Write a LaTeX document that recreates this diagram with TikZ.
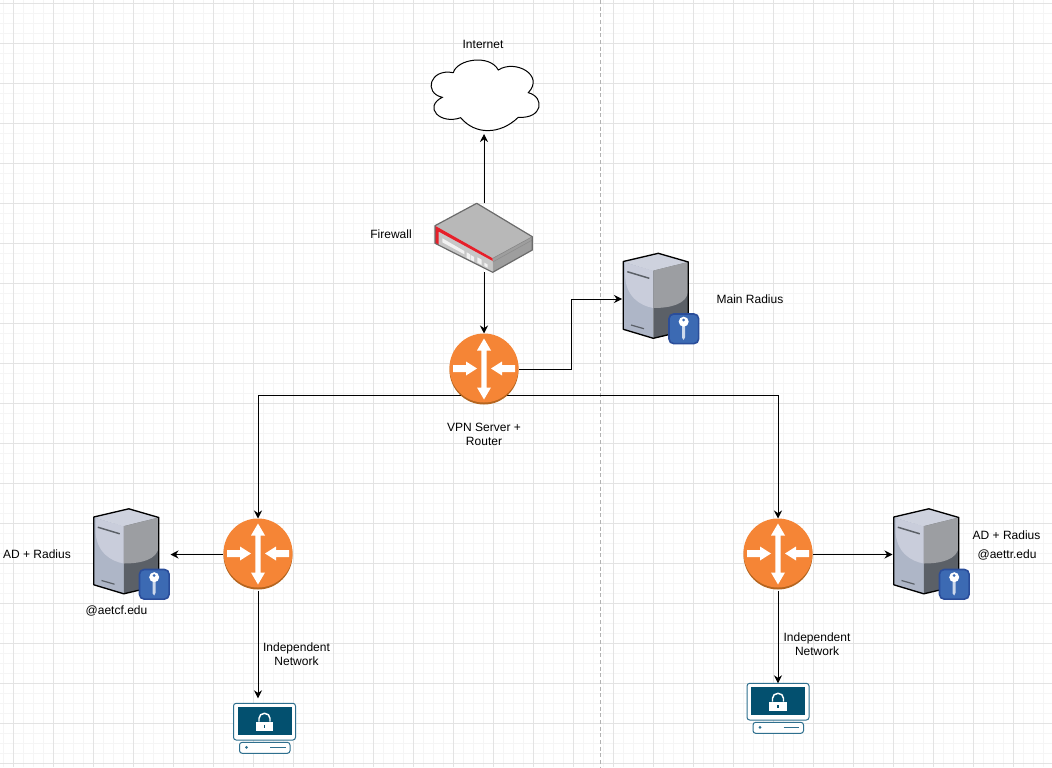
\documentclass[tikz,border=0pt]{standalone}
\usepackage{fontspec}
\setmainfont{Liberation Sans}
\usepackage{xcolor}
\usetikzlibrary{arrows.meta}

\definecolor{routerFace}{HTML}{F58536}
\definecolor{routerEdge}{HTML}{B5651F}
\definecolor{srvTop}{HTML}{CED2DE}
\definecolor{srvLeft}{HTML}{AEB6C7}
\definecolor{srvGlow}{HTML}{C9CDDB}
\definecolor{srvRight}{HTML}{9C9EA2}
\definecolor{srvDark}{HTML}{5B6067}
\definecolor{keyBlue}{HTML}{3C6AB3}
\definecolor{keyEdge}{HTML}{2A4D9A}
\definecolor{termDark}{HTML}{03506F}
\definecolor{termEdge}{HTML}{2E6F8E}
\definecolor{fwRed}{HTML}{E6202A}

\tikzset{
  pics/routerIcon/.style={code={
    \fill [routerEdge] (0,0.5) circle (34.5);
    \fill [routerFace] (0,-1.5) circle (34.5);
    \fill [white] (0,-31) -- (7,-19) -- (2.7,-19) -- (2.7,18) -- (7,18) -- (0,30) -- (-7,18) -- (-2.7,18) -- (-2.7,-19) -- (-7,-19) -- cycle;
    \fill [white] (-31,-4.5) -- (-18,-4.5) -- (-18,-8) -- (-7,-1) -- (-18,6) -- (-18,2.5) -- (-31,2.5) -- cycle;
    \fill [white] (31,-4.5) -- (18,-4.5) -- (18,-8) -- (7,-1) -- (18,6) -- (18,2.5) -- (31,2.5) -- cycle;
  }},
  pics/serverIcon/.style={code={
    \fill [srvLeft] (-37.7,-37.5) -- (-7.7,-28.3) -- (-7.7,39.3) -- (-37.7,30.3) -- cycle;
    \fill [srvTop] (-37.7,-37.5) -- (-2.7,-45.7) -- (27.3,-37) -- (-7.7,-28.3) -- cycle;
    \fill [srvGlow] (-36,-36.5) -- (-7.7,-28.3) -- (-7.7,9) .. controls (-20,7) and (-36,-2) .. (-36,-25) -- cycle;
    \fill [srvDark] (-7.7,-28.3) -- (27.3,-37) -- (27.3,31) -- (-7.7,39.3) -- cycle;
    \fill [srvRight] (-7.7,-28.3) -- (27.3,-37) -- (27.3,-8) .. controls (26,5) and (10,9) .. (-7.7,9) -- cycle;
    \draw [black, line width=1pt, line join=round] (-37.7,-37.5) -- (-2.7,-45.7) -- (27.3,-37) -- (27.3,31) -- (-7.7,39.3) -- (-37.7,30.3) -- cycle;
    \draw [srvDark, line width=1.1pt] (-33.7,-27.3) -- (-11.7,-20.7);
    \draw [srvDark, line width=0.9pt] (-30,26) -- (-17,29.7);
    \draw [keyEdge, fill=keyBlue, line width=1.2pt, rounded corners=3.5pt] (8,15) rectangle (37.6,44.6);
    \fill [white!75!keyBlue] (21.2,24) -- (24.2,24) -- (24.2,38) -- (22.7,41) -- (21.2,39) -- cycle;
    \fill [white] (22.7,22.7) circle (5);
    \fill [keyBlue] (22.7,21) circle (1.5);
  }},
  pics/firewallIcon/.style={code={
    \fill [black!22] (-49,-11.8) -- (8.7,20.8) -- (8.7,34.8) -- (-49,5.8) -- cycle;
    \fill [black!38] (8.7,20.8) -- (48.3,-0.8) -- (48.3,12.5) -- (8.7,34.8) -- cycle;
    \fill [black!28] (-7.3,-34.2) -- (48.3,-0.8) -- (8.7,20.8) -- (-49,-11.8) -- cycle;
    \draw [black!45, line width=0.4pt] (8.7,24.5) -- (48.3,2.5);
    \fill [fwRed] (-49,-11.8) -- (8.7,20.8) -- (8.7,23.5) -- (-45.5,-6) -- (-45.5,7.5) -- (-49,5.8) -- cycle;
    \fill [black!5] (-41.7,0.8) -- (-19.7,13.5) -- (-19.7,16.8) -- (-41.7,4.8) -- cycle;
    \fill [black!5] (-17.3,14.8) -- (-14,16.7) -- (-14,22.5) -- (-17.3,20.6) -- cycle;
    \fill [black!5] (-13.3,17.5) -- (-10,19.4) -- (-10,24.2) -- (-13.3,22.3) -- cycle;
    \fill [black!5] (-6.7,19.8) -- (-2.3,22.2) -- (-2.3,27.5) -- (-6.7,25) -- cycle;
    \fill [black!5] (0.3,25.2) -- (3.7,27) -- (3.7,30.2) -- (0.3,28.4) -- cycle;
    \draw [black!58, line width=0.9pt, line join=round] (-7.3,-34.2) -- (48.3,-0.8) -- (48.3,12.5) -- (8.7,34.8) -- (-49,5.8) -- (-49,-11.8) -- cycle;
    \draw [black!50, line width=0.4pt] (8.7,20.8) -- (48.3,-0.8);
  }},
  pics/cloudIcon/.style={code={
    \draw [black, fill=white, line width=0.75pt]
      (-31.7,-22.3) .. controls (-28,-36) and (5,-41) .. (13.3,-25)
      .. controls (30,-36) and (60,-20) .. (43.3,-2.3)
      .. controls (60,2) and (58,24) .. (33.3,22.3)
      .. controls (15,40) and (-10,40) .. (-24.3,22.7)
      .. controls (-45,30) and (-62,12) .. (-42.7,2.3)
      .. controls (-62,-2) and (-55,-27) .. (-31.7,-22.3) -- cycle;
  }},
  pics/terminalIcon/.style={code={
    \draw [termEdge, fill=white, line width=0.75pt, rounded corners=2pt] (-31,-25) rectangle (31,11.7);
    \fill [termDark] (-27,-21) rectangle (27,6.7);
    \fill [white] (-8.8,-6.6) rectangle (8.8,2.4);
    \draw [white, line width=1.1pt] (-5.5,-6.6) -- (-5.5,-10) arc (180:360:5.5 and 5) -- (5.5,-6.6);
    \fill [termDark] (-0.7,-3) rectangle (0.7,-0.5);
    \draw [termEdge, fill=white, line width=0.75pt, rounded corners=2pt] (-25,14) rectangle (25.5,25);
    \fill [termEdge] (-18,19) circle (1.5);
    \draw [termEdge, line width=1.1pt] (5.5,19) -- (21,19);
  }},
}

\begin{document}
\begin{tikzpicture}[x=0.75pt,y=-0.75pt]
\tikzstyle{box} = [rectangle, inner sep=0pt, outer sep=0pt]
\tikzstyle{routerbox} = [box, minimum width=52.5pt, minimum height=54pt]
\tikzstyle{serverbox} = [box, minimum width=58.5pt, minimum height=69pt]
\tikzstyle{firewallbox} = [box, minimum width=74.25pt, minimum height=51.75pt]
\tikzstyle{cloudbox} = [box, minimum width=81pt, minimum height=52.5pt]
\tikzstyle{terminalbox} = [box, minimum width=46.5pt, minimum height=37.5pt]
\tikzstyle{caption} = [inner sep=0pt, align=center, text=black, font=\fontsize{9}{10.5}\selectfont]
\tikzstyle{arrow} = [line width=0.75pt, -{Stealth[length=6pt,width=6pt]}]
\tikzstyle{majorline} = [draw=black!11, line width=0.75pt]
\tikzstyle{minorline} = [draw=black!4, line width=0.75pt]
\tikzstyle{divider} = [draw=black!30, line width=0.75pt, dash pattern=on 3pt off 2pt]

\useasboundingbox (0,0) rectangle (1052,767);
\fill [white] (0,0) rectangle (1052,767);

% grid
\foreach \gx in {3.5,13.5,...,1043.5} {\draw [minorline] (\gx,0) -- (\gx,767);}
\foreach \gy in {3.5,13.5,...,763.5} {\draw [minorline] (0,\gy) -- (1052,\gy);}
\foreach \gx in {13.5,53.5,...,1013.5} {\draw [majorline] (\gx,0) -- (\gx,767);}
\foreach \gy in {3.5,43.5,...,763.5} {\draw [majorline] (0,\gy) -- (1052,\gy);}
\draw [divider] (600.5,0) -- (600.5,767);

% places of the devices
\node (cloud) [cloudbox] at (485,95) {};
\node (firewall) [firewallbox] at (484,237.5) {};
\node (vpn) [routerbox] at (484,369.5) {};
\node (mainRadius) [serverbox] at (661,299) {};
\node (leftRouter) [routerbox] at (258,554.5) {};
\node (rightRouter) [routerbox] at (778,554.5) {};
\node (leftRadius) [serverbox] at (131.5,554.5) {};
\node (rightRadius) [serverbox] at (931.5,554.5) {};
\node (leftTerminal) [terminalbox] at (264.5,728.3) {};
\node (rightTerminal) [terminalbox] at (778,708.3) {};

% labels
\node (internetText) [caption] at (483,44) {Internet};
\node (firewallText) [caption] at (391,234) {Firewall};
\node (vpnText) [caption, below of=vpn, node distance=48.4pt] {VPN Server +\\Router};
\node (mainText) [caption] at (750,299) {Main Radius};
\node (leftAdText) [caption] at (37,554.5) {AD + Radius};
\node (leftDomainText) [caption] at (116.5,611) {@aetcf.edu};
\node (leftNetText) [caption] at (296.5,654) {Independent\\Network};
\node (rightAdText) [caption] at (1006.5,535) {AD + Radius};
\node (rightDomainText) [caption] at (1007,555) {@aettr.edu};
\node (rightNetText) [caption] at (817,644) {Independent\\Network};

% connectors
\draw [arrow, shorten >=3pt] (firewall.north) -- (firewall.north |- cloud.south);
\draw [arrow] (firewall.south) -- (vpn.north);
\draw [arrow] (vpn.east) -- ++(52,0) |- (mainRadius.west);
\draw [arrow] (vpn.south) ++(0,-10.5) -| (leftRouter.north);
\draw [arrow] (vpn.south) ++(0,-10.5) -| (rightRouter.north);
\draw [arrow] (leftRouter.west) -- (leftRadius.east);
\draw [arrow] (rightRouter.east) -- (rightRadius.west);
\draw [arrow, shorten >=3.75pt] (leftRouter.south) -- (leftRouter.south |- leftTerminal.north);
\draw [arrow] (rightRouter.south) -- (rightTerminal.north);

% icons over the lines
\pic at (cloud) {cloudIcon};
\pic at (firewall) {firewallIcon};
\pic at (vpn) {routerIcon};
\pic at (leftRouter) {routerIcon};
\pic at (rightRouter) {routerIcon};
\pic at (mainRadius) {serverIcon};
\pic at (leftRadius) {serverIcon};
\pic at (rightRadius) {serverIcon};
\pic at (leftTerminal) {terminalIcon};
\pic at (rightTerminal) {terminalIcon};

\end{tikzpicture}
\end{document}
